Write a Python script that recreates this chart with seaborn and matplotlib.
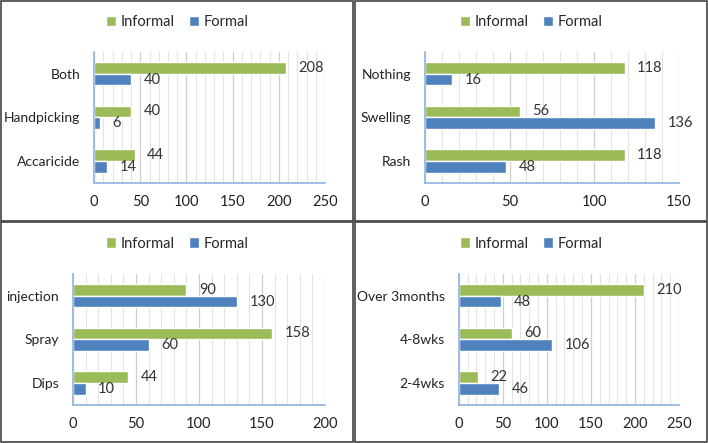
import pandas as pd
import seaborn as sns
from matplotlib import pyplot as plt
from matplotlib.patches import Rectangle
from matplotlib.ticker import MultipleLocator

# panel 1: control method
control_cats = ['Both', 'Handpicking', 'Accaricide']
control_informal = [208, 40, 44]
control_formal = [40, 6, 14]

# panel 2: reaction
reaction_cats = ['Nothing', 'Swelling', 'Rash']
reaction_informal = [118, 56, 118]
reaction_formal = [16, 136, 48]

# panel 3: application
apply_cats = ['injection', 'Spray', 'Dips']
apply_informal = [90, 158, 44]
apply_formal = [130, 60, 10]

# panel 4: duration
duration_cats = ['Over 3months', '4-8wks', '2-4wks']
duration_informal = [210, 60, 22]
duration_formal = [48, 106, 46]

groups = ['Informal', 'Formal']
colors = ['#9BBB59', '#4F81BD']

sns.set_theme(style='white')
plt.rcParams['font.family'] = ['Lato', 'DejaVu Sans']

fig = plt.figure(figsize=(7.08, 4.43), dpi=100)

panels = [
    (control_cats, control_informal, control_formal, 250, [0.133, 0.587, 0.326, 0.296], 0.25, 0.95),
    (reaction_cats, reaction_informal, reaction_formal, 150, [0.600, 0.587, 0.359, 0.296], 0.75, 0.95),
    (apply_cats, apply_informal, apply_formal, 200, [0.103, 0.086, 0.356, 0.296], 0.25, 0.45),
    (duration_cats, duration_informal, duration_formal, 250, [0.648, 0.086, 0.311, 0.296], 0.75, 0.45),
]

for cats, informal, formal, xmax, rect, lx, ly in panels:
    df = pd.DataFrame({
        'cat': cats * 2,
        'value': informal + formal,
        'group': ['Informal'] * len(cats) + ['Formal'] * len(cats),
    })
    ax = fig.add_axes(rect)
    sns.barplot(data=df, y='cat', x='value', hue='group', hue_order=groups,
                palette=colors, order=cats, orient='h', width=0.54,
                saturation=1, ax=ax)
    for c in ax.containers:
        ax.bar_label(c, padding=9, fontsize=10.5, color='#333333')
    ax.set_xlim(0, xmax)
    ax.set_ylim(2.5, -0.5)
    ax.xaxis.set_major_locator(MultipleLocator(50))
    ax.xaxis.set_minor_locator(MultipleLocator(10))
    ax.grid(axis='x', which='major', color='#CFCFCF', linewidth=0.9)
    ax.grid(axis='x', which='minor', color='#E3E3E3', linewidth=0.8)
    ax.set_axisbelow(True)
    ax.set_xlabel('')
    ax.set_ylabel('')
    ax.tick_params(axis='y', length=0, labelsize=10, labelcolor='#222222', pad=10)
    ax.tick_params(axis='x', which='both', length=0, labelsize=10.5,
                   labelcolor='#222222', pad=9)
    for s in ['top', 'right']:
        ax.spines[s].set_visible(False)
    for s in ['left', 'bottom']:
        ax.spines[s].set_color('#8EB4E3')
        ax.spines[s].set_linewidth(1.2)
    ax.legend(loc='center', bbox_to_anchor=(lx, ly), bbox_transform=fig.transFigure,
              ncol=2, frameon=False, fontsize=10.5, handlelength=0.7, handleheight=0.7,
              handletextpad=0.3, columnspacing=1.0)

# panel borders
for x0, y0 in [(0, 0.5), (0.5, 0.5), (0, 0), (0.5, 0)]:
    fig.add_artist(Rectangle((x0 + 0.001, y0 + 0.002), 0.498, 0.496,
                             transform=fig.transFigure, fill=False,
                             edgecolor='#444444', linewidth=1.2))

fig.savefig('out.png', dpi=100)
